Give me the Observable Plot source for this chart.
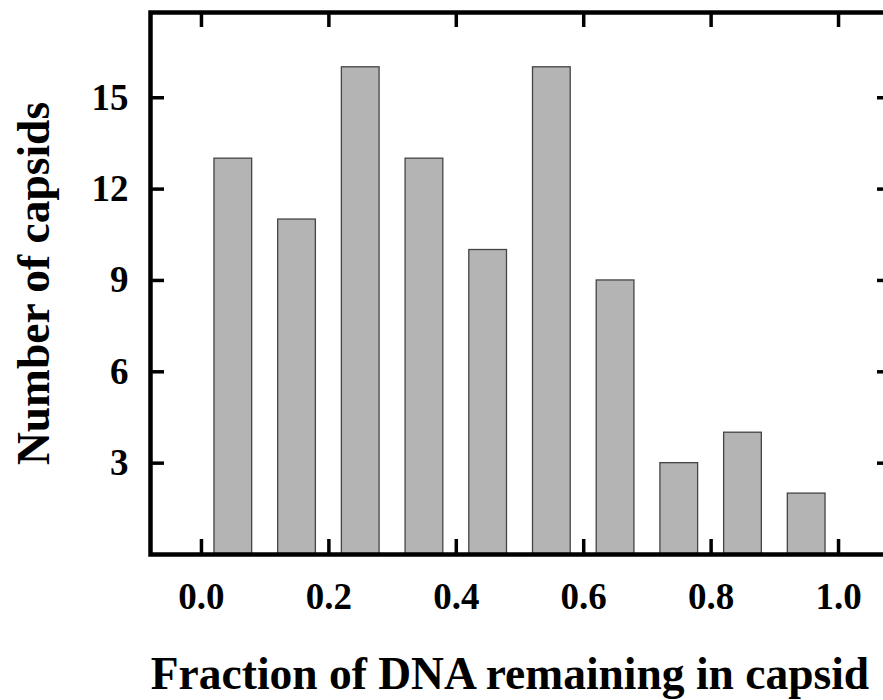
<!DOCTYPE html>
<html>
<head>
<meta charset="utf-8">
<script src="https://cdn.jsdelivr.net/npm/d3@7"></script>
<script src="https://cdn.jsdelivr.net/npm/@observablehq/plot@0.6"></script>
<style>
  html, body { margin: 0; padding: 0; background: #fff; overflow: hidden; width: 883px; height: 700px; }
  #chart svg { max-width: none !important; display: block; }
</style>
</head>
<body>
<div id="chart"></div>
<script>
const binStarts = [0.0, 0.1, 0.2, 0.3, 0.4, 0.5, 0.6, 0.7, 0.8, 0.9];
const binWidth = 0.1;
const counts = [13, 11, 16, 13, 10, 16, 9, 3, 4, 2];
const xTicks = [0.0, 0.2, 0.4, 0.6, 0.8, 1.0];
const yTicks = [3, 6, 9, 12, 15];
const xTitle = "Fraction of DNA remaining in capsid";
const yTitle = "Number of capsids";

const bins = binStarts.map((x0, i) => ({x0, x1: x0 + binWidth, count: counts[i]}));

const font = "'Liberation Serif', 'Times New Roman', serif";
const yMax = 17.8;
const plotH = 700 - 12 - 146;
const tickLen = 15 * yMax / plotH;

const plot = Plot.plot({
  width: 895,
  height: 700,
  marginLeft: 150,
  marginRight: 6,
  marginTop: 12,
  marginBottom: 146,
  style: {fontFamily: font, background: "#fff", color: "#000"},
  x: {domain: [-0.08, 1.08]},
  y: {domain: [0, yMax]},
  marks: [
    Plot.rectY(bins, {x1: "x0", x2: "x1", y: "count", insetLeft: 13, insetRight: 13,
      fill: "#b4b4b4", stroke: "#444", strokeWidth: 1.3}),
    Plot.axisX(xTicks, {anchor: "bottom", tickSize: 0, tickPadding: 28, strokeWidth: 3.5,
      tickFormat: d => d.toFixed(1), fontSize: 37, fontWeight: "bold", label: null}),
    Plot.ruleX(xTicks, {x: d => d, y1: yMax, y2: yMax - tickLen, stroke: "#000", strokeWidth: 3.5}),
    Plot.ruleX(xTicks, {x: d => d, y1: 0, y2: tickLen, stroke: "#000", strokeWidth: 3.5}),
    Plot.axisY(yTicks, {anchor: "left", tickSize: -14, tickPadding: 36, strokeWidth: 3.5,
      fontSize: 37, fontWeight: "bold", label: null}),
    Plot.axisY(yTicks, {anchor: "right", tickSize: -13, strokeWidth: 3.5, tickFormat: () => "", label: null}),
    Plot.frame({stroke: "#000", strokeWidth: 4.5}),
    Plot.text([xTitle], {frameAnchor: "bottom", dy: 120, dx: -10, lineAnchor: "middle",
      fontSize: 45.5, fontWeight: "bold", fill: "#000"}),
    Plot.text([yTitle], {frameAnchor: "left", dx: -116, textAnchor: "middle", rotate: -90, lineAnchor: "middle",
      fontSize: 45.5, fontWeight: "bold", fill: "#000"})
  ]
});
document.getElementById("chart").appendChild(plot);
</script>
</body>
</html>
